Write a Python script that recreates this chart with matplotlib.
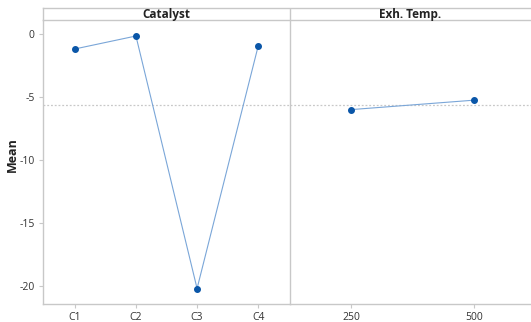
import numpy as np
import matplotlib.pyplot as plt

# main effects: mean response for each factor level
catalyst_levels = ["C1", "C2", "C3", "C4"]
catalyst_means = [-1.19, -0.16, -20.2, -0.95]
temp_levels = ["250", "500"]
temp_means = [-6.0, -5.25]
factors = ["Catalyst", "Exh. Temp."]

grand_mean = np.mean(catalyst_means)

plt.rcParams['font.family'] = ['Open Sans', 'DejaVu Sans']
plt.rcParams['axes.unicode_minus'] = False

W, H = 531, 322
fig = plt.figure(figsize=(W / 100, H / 100), dpi=100)


def px_axes(x0, y0, x1, y1):
    # axes from pixel box (top-left origin)
    return fig.add_axes([x0 / W, 1 - y1 / H, (x1 - x0) / W, (y1 - y0) / H])


grid_col = "#c8c8c8"
line_col = "#7aa6d8"
dot_col = "#0a56a8"
text_col = "#333333"

ax1 = px_axes(43, 20, 290, 304)
ax2 = px_axes(290, 20, 531, 304)

panels = [(ax1, catalyst_levels, catalyst_means, (-0.52, 3.52)),
          (ax2, temp_levels, temp_means, (-0.5, 1.46))]

for ax, levels, means, xl in panels:
    x = np.arange(len(levels))
    ax.axhline(grand_mean, color="#c8c8c8", lw=0.9, ls=(0, (1.5, 1.5)), zorder=1)
    ax.plot(x, means, color=line_col, lw=0.8, zorder=2)
    ax.plot(x, means, "o", color=dot_col, ms=4, zorder=3)
    ax.set_xticks(x)
    ax.set_xticklabels(levels)
    ax.set_xlim(*xl)
    ax.set_ylim(-21.43, 1.11)
    for s in ["top", "right"]:
        ax.spines[s].set_visible(False)
    for s in ["left", "bottom"]:
        ax.spines[s].set_color(grid_col)
        ax.spines[s].set_linewidth(1.0)
    ax.tick_params(colors=grid_col, labelcolor=text_col, labelsize=7.5,
                   length=3, width=0.8, pad=3)

ax1.set_yticks([0, -5, -10, -15, -20])
ax2.tick_params(axis="y", left=False, labelleft=False)

fig.text(12 / W, 1 - 155 / H, "Mean", rotation=90, ha="center", va="center",
         fontsize=9, fontweight="bold", color="#222222")

# factor header strip
hdr = px_axes(43, 8, 531, 20)
hdr.set_xlim(43, 531)
hdr.set_ylim(0, 1)
hdr.set_xticks([])
hdr.set_yticks([])
for s in ["top", "bottom", "left"]:
    hdr.spines[s].set_color(grid_col)
    hdr.spines[s].set_linewidth(1.0)
hdr.spines["right"].set_visible(False)
hdr.axvline(290, color=grid_col, lw=1.0)
hdr.text((43 + 290) / 2, 0.45, factors[0], ha="center", va="center",
         fontsize=8.5, fontweight="bold", color="#222222")
hdr.text((290 + 531) / 2, 0.45, factors[1], ha="center", va="center",
         fontsize=8.5, fontweight="bold", color="#222222")

fig.savefig("out.png", dpi=100)
